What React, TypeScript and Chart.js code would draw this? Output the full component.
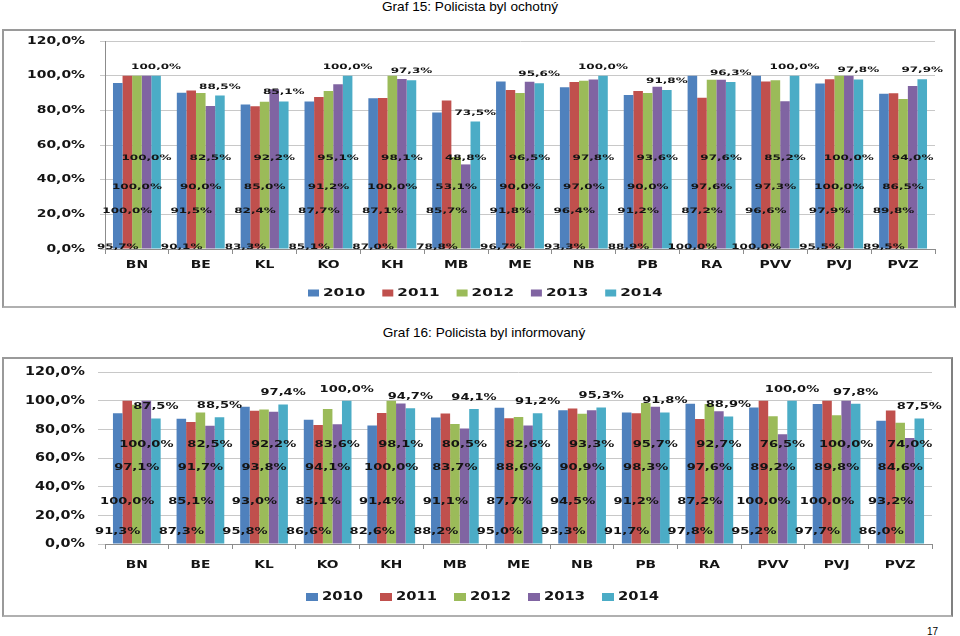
import React, { useEffect, useRef } from 'react';
import { Chart, registerables } from 'chart.js';

Chart.register(...registerables);

// ---------- data ----------
const CATEGORIES = ['BN', 'BE', 'KL', 'KO', 'KH', 'MB', 'ME', 'NB', 'PB', 'RA', 'PVV', 'PVJ', 'PVZ'];
const YEARS = ['2010', '2011', '2012', '2013', '2014'];
const Y_TICKS = [0, 20, 40, 60, 80, 100, 120];

// Graf 15: Policista byl ochotný
const G15_2010 = [95.7, 90.1, 83.3, 85.1, 87.0, 78.8, 96.7, 93.3, 88.9, 100.0, 100.0, 95.5, 89.5];
const G15_2011 = [100.0, 91.5, 82.4, 87.7, 87.1, 85.7, 91.8, 96.4, 91.2, 87.2, 96.6, 97.9, 89.8];
const G15_2012 = [100.0, 90.0, 85.0, 91.2, 100.0, 53.1, 90.0, 97.0, 90.0, 97.6, 97.3, 100.0, 86.5];
const G15_2013 = [100.0, 82.5, 92.2, 95.1, 98.1, 48.8, 96.5, 97.8, 93.6, 97.6, 85.2, 100.0, 94.0];
const G15_2014 = [100.0, 88.5, 85.1, 100.0, 97.3, 73.5, 95.6, 100.0, 91.8, 96.3, 100.0, 97.8, 97.9];

// Graf 16: Policista byl informovaný
const G16_2010 = [91.3, 87.3, 95.8, 86.6, 82.6, 88.2, 95.0, 93.3, 91.7, 97.8, 95.2, 97.7, 86.0];
const G16_2011 = [100.0, 85.1, 93.0, 83.1, 91.4, 91.1, 87.7, 94.5, 91.2, 87.2, 100.0, 100.0, 93.2];
const G16_2012 = [97.1, 91.7, 93.8, 94.1, 100.0, 83.7, 88.6, 90.9, 98.3, 97.6, 89.2, 89.8, 84.6];
const G16_2013 = [100.0, 82.5, 92.2, 83.6, 98.1, 80.5, 82.6, 93.3, 95.7, 92.7, 76.5, 100.0, 74.0];
const G16_2014 = [87.5, 88.5, 97.4, 100.0, 94.7, 94.1, 91.2, 95.3, 91.8, 88.9, 100.0, 97.8, 87.5];

const COLORS = ['#4F81BD', '#C0504D', '#9BBB59', '#8064A2', '#4BACC6'];
const TEXT_COLOR = '#141414';
const GRID_COLOR = '#c8c8c8';
const AXIS_COLOR = '#8c8c8c';

const fmt = (v: number) => v.toFixed(1).replace('.', ',') + '%';

function drawText(
  ctx: CanvasRenderingContext2D,
  text: string,
  x: number,
  y: number,
  size: number,
  sx: number,
  align: 'left' | 'center' | 'right'
) {
  ctx.save();
  ctx.font = `bold ${size}px "DejaVu Sans"`;
  ctx.textBaseline = 'middle';
  ctx.textAlign = 'left';
  const w = ctx.measureText(text).width * sx;
  const left = align === 'center' ? x - w / 2 : align === 'right' ? x - w : x;
  ctx.translate(left, y);
  ctx.scale(sx, 1);
  ctx.fillStyle = TEXT_COLOR;
  ctx.fillText(text, 0, 0);
  ctx.restore();
}

type Style = {
  W: number;
  H: number;
  padTop: number;
  padRight: number;
  xHeight: number;
  yWidth: number;
  yBorder: boolean;
  yTickLen: number;
  tickRight: number;
  tickSize: number;
  tickSx: number;
  catY: number;
  catSize: number;
  catSx: number;
  lblSize: number;
  lblSx: number;
  rows: number[];
  topOffset: number;
  legX: number;
  legGap: number;
  legY: number;
  legBoxW: number;
  legBoxH: number;
  legTextGap: number;
  legSize: number;
  legSx: number;
};

const TOP_STYLE: Style = {
  W: 950, H: 275, padTop: 10, padRight: 19, xHeight: 57, yWidth: 101, yBorder: true, yTickLen: 5,
  tickRight: 81, tickSize: 9.6, tickSx: 1.45,
  catY: 234, catSize: 9.6, catSx: 1.45,
  lblSize: 7.5, lblSx: 1.6, rows: [1, 22, 36, 52.5], topOffset: 9,
  legX: 304, legGap: 74.3, legY: 262, legBoxW: 11, legBoxH: 7, legTextGap: 4, legSize: 10.5, legSx: 1.45,
};

const BOTTOM_STYLE: Style = {
  W: 947, H: 256, padTop: 13, padRight: 19, xHeight: 71, yWidth: 101, yBorder: false, yTickLen: 7,
  tickRight: 81, tickSize: 12.3, tickSx: 1.17,
  catY: 206, catSize: 10, catSx: 1.375,
  lblSize: 9, lblSx: 1.45, rows: [8.4, 29.5, 53, 69], topOffset: 11.5,
  legX: 302, legGap: 74, legY: 238, legBoxW: 12, legBoxH: 8, legTextGap: 4, legSize: 12.3, legSx: 1.2,
};

function labelPlugin(st: Style) {
  return {
    id: 'customLabels',
    afterDraw(chart: any) {
      const ctx = chart.ctx as CanvasRenderingContext2D;
      const ys = chart.scales.y;
      const xs = chart.scales.x;
      // y tick labels
      Y_TICKS.forEach((t) => {
        drawText(ctx, fmt(t), st.tickRight, ys.getPixelForValue(t), st.tickSize, st.tickSx, 'right');
      });
      // category labels
      CATEGORIES.forEach((c, i) => {
        drawText(ctx, c, xs.getPixelForValue(i), st.catY, st.catSize, st.catSx, 'center');
      });
      // data labels
      chart.data.datasets.forEach((ds: any, d: number) => {
        const meta = chart.getDatasetMeta(d);
        meta.data.forEach((bar: any, i: number) => {
          const v = ds.data[i] as number;
          const py = d < st.rows.length ? ys.getPixelForValue(st.rows[d]) : bar.y - st.topOffset;
          drawText(ctx, fmt(v), bar.x, py, st.lblSize, st.lblSx, 'center');
        });
      });
      // legend
      YEARS.forEach((yr, i) => {
        const lx = st.legX + i * st.legGap;
        ctx.save();
        ctx.fillStyle = COLORS[i];
        ctx.fillRect(lx, st.legY - st.legBoxH / 2, st.legBoxW, st.legBoxH);
        ctx.restore();
        drawText(ctx, yr, lx + st.legBoxW + st.legTextGap, st.legY, st.legSize, st.legSx, 'left');
      });
    },
  };
}

function makeConfig(series: number[][], st: Style): any {
  return {
    type: 'bar',
    data: {
      labels: CATEGORIES,
      datasets: series.map((d, i) => ({
        label: YEARS[i],
        data: d,
        backgroundColor: COLORS[i],
        borderWidth: 0,
        categoryPercentage: 0.75,
        barPercentage: 1,
      })),
    },
    options: {
      animation: false,
      responsive: false,
      maintainAspectRatio: false,
      devicePixelRatio: 1,
      layout: { padding: { top: st.padTop, right: st.padRight, left: 0, bottom: 0 } },
      plugins: {
        legend: { display: false },
        title: { display: false },
        tooltip: { enabled: false },
      },
      scales: {
        x: {
          grid: {
            display: true,
            offset: true,
            drawOnChartArea: false,
            drawTicks: true,
            tickLength: 5,
            color: AXIS_COLOR,
          },
          border: { display: true, color: AXIS_COLOR },
          ticks: { display: false },
          afterFit: (s: any) => {
            s.height = st.xHeight;
          },
        },
        y: {
          min: 0,
          max: 120,
          ticks: { display: false, stepSize: 20 },
          grid: { color: GRID_COLOR, drawTicks: true, tickLength: st.yTickLen },
          border: { display: st.yBorder, color: AXIS_COLOR },
          afterFit: (s: any) => {
            s.width = st.yWidth;
          },
        },
      },
    },
    plugins: [labelPlugin(st)],
  };
}

function BarChart({ series, st }: { series: number[][]; st: Style }) {
  const ref = useRef<HTMLCanvasElement | null>(null);
  useEffect(() => {
    if (!ref.current) return;
    const chart = new Chart(ref.current, makeConfig(series, st));
    return () => chart.destroy();
  }, [series, st]);
  return <canvas ref={ref} width={st.W} height={st.H} style={{ display: 'block', width: st.W, height: st.H }} />;
}

const SERIES_15 = [G15_2010, G15_2011, G15_2012, G15_2013, G15_2014];
const SERIES_16 = [G16_2010, G16_2011, G16_2012, G16_2013, G16_2014];

export default function App() {
  const titleStyle: React.CSSProperties = {
    position: 'absolute',
    left: 0,
    textAlign: 'center',
    fontFamily: '"Liberation Sans", Arial, sans-serif',
    fontSize: 13.6,
    lineHeight: '14px',
    color: '#000',
    whiteSpace: 'nowrap',
  };
  return (
    <div
      style={{
        position: 'fixed',
        left: 0,
        top: 0,
        width: 960,
        height: 636,
        background: '#fff',
        overflow: 'hidden',
      }}
    >
      <div style={{ ...titleStyle, top: -0.5, width: 940 }}>Graf 15: Policista byl ochotný</div>
      <div
        style={{
          position: 'absolute',
          left: 2,
          top: 29,
          width: 950,
          height: 275,
          border: '2px solid #9a9a9a',
          borderRightColor: '#808080',
          borderBottomColor: '#b0b0b0',
        }}
      >
        <BarChart series={SERIES_15} st={TOP_STYLE} />
      </div>
      <div style={{ ...titleStyle, top: 326, width: 968 }}>Graf 16: Policista byl informovaný</div>
      <div
        style={{
          position: 'absolute',
          left: 2,
          top: 357,
          width: 947,
          height: 256,
          border: '2px solid #9a9a9a',
          borderRightColor: '#808080',
          borderBottomColor: '#b0b0b0',
        }}
      >
        <BarChart series={SERIES_16} st={BOTTOM_STYLE} />
      </div>
      <div
        style={{
          position: 'absolute',
          right: 22,
          top: 627,
          fontFamily: '"Liberation Sans", Arial, sans-serif',
          fontSize: 10,
          lineHeight: '10px',
          color: '#000',
        }}
      >
        17
      </div>
    </div>
  );
}
